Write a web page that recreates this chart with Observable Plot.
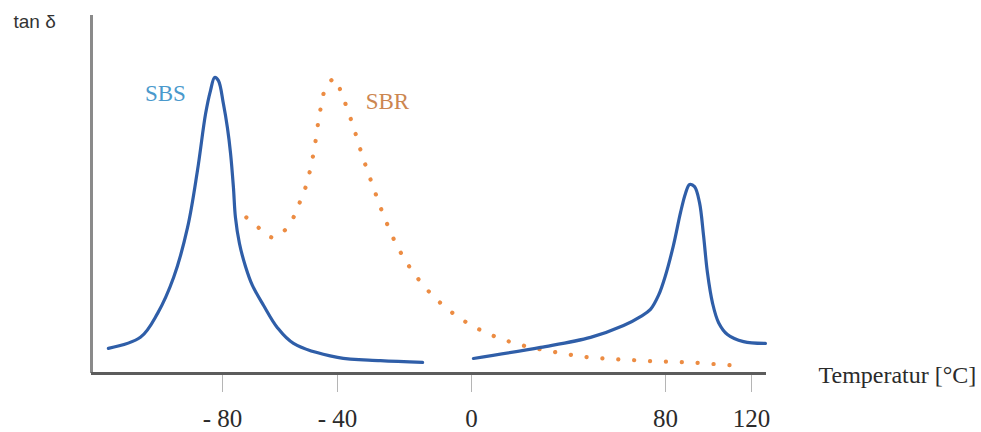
<!DOCTYPE html>
<html>
<head>
<meta charset="utf-8">
<script src="https://cdn.jsdelivr.net/npm/d3@7"></script>
<script src="https://cdn.jsdelivr.net/npm/@observablehq/plot@0.6"></script>
<style>
  html, body { margin: 0; padding: 0; background: #fff; }
  #chart svg { display: block; }
</style>
</head>
<body>
<div id="chart"></div>
<script>
// Temperature (°C) and tan δ (arbitrary units, 0 = axis, 100 = top of axis)
const sbsTemp = [-119.2, -108.2, -102.3, -96.8, -92.0, -88.6, -85.8, -84.1, -82.7, -81.4, -79.7, -78.3, -77.2, -76.2, -75.5, -74.1, -72.0, -69.6, -65.7, -60.9, -55.3, -40.0, -27.2, -14.6,
                 null,
                 0.8, 28.5, 49.1, 62.7, 69.7, 73.8, 77.1, 80.0, 83.7, 87.0, 89.3, 91.2, 93.5, 95.8, 97.7, 99.5, 101.9, 104.7, 108.8, 116.3, 126.5];
const sbsTan  = [7.0, 10.1, 16.8, 26.8, 40.8, 56.7, 72.6, 79.1, 82.7, 81.8, 75.4, 68.7, 61.5, 52.0, 43.6, 36.3, 29.9, 24.6, 19.0, 12.8, 8.4, 4.5, 3.6, 3.1,
                 null,
                 4.2, 7.3, 10.1, 13.4, 15.9, 17.9, 21.8, 27.4, 35.8, 45.0, 50.3, 52.8, 52.2, 47.8, 38.5, 28.2, 19.6, 14.2, 10.9, 8.9, 8.4];

const sbrTemp = [-71.7, -67.1, -62.6, -58.1, -55.0, -52.9, -50.8, -48.3, -46.6, -45.6, -44.2, -41.0, -38.8, -35.5, -32.5, -29.3, -26.0, -21.8, -16.7, -10.1, -2.4, 8.7, 21.4, 35.1, 48.7, 62.3, 75.9, 90.7, 106.0, 113.5];
const sbrTan  = [43.6, 40.5, 38.0, 40.2, 44.1, 48.3, 52.8, 61.7, 70.7, 75.1, 79.6, 82.4, 78.2, 69.6, 60.6, 52.0, 43.6, 34.9, 27.4, 20.4, 14.8, 10.6, 7.8, 5.9, 4.5, 3.9, 3.4, 3.1, 2.5, 2.2];

const tickValues = [-80, -40, 0, 80, 120];
const seriesNames = ["SBS", "SBR"];
const labelTemp = [-99.6, -25.1];
const labelTan = [78.2, 76.0];
const yTitle = "tan δ";
const xTitle = "Temperatur [°C]";

// the schematic's temperature axis is non-uniform: piecewise warp of temperature
const warpDomain = [-125, -80, -40, 0, 80, 120, 127];
const warpRange  = [0, 131, 246, 380, 574, 660, 675];
const warp = d3.scaleLinear().domain(warpDomain).range(warpRange);
const wx = t => (t == null ? NaN : warp(t));

const sbs = sbsTemp.map((t, i) => ({t, v: sbsTan[i]}));
const sbr = sbrTemp.map((t, i) => ({t, v: sbrTan[i]}));

const serif = "'Liberation Serif', 'DejaVu Serif', serif";

const chart = Plot.plot({
  width: 981,
  height: 432,
  marginLeft: 91,
  marginRight: 215,
  marginTop: 15,
  marginBottom: 59,
  x: {domain: [warpRange[0], warpRange[warpRange.length - 1]], axis: null},
  y: {domain: [0, 100], axis: null},
  marks: [
    Plot.axisX({
      ticks: tickValues.map(wx),
      tickSize: 19,
      tickPadding: 17,
      tickFormat: d => { const t = Math.round(warp.invert(d)); return t < 0 ? "- " + Math.abs(t) : String(t); },
      stroke: "#b5b5b5",
      strokeWidth: 1,
      fill: "#2b2b2b",
      fontSize: 25,
      fontFamily: serif,
      label: null
    }),
    Plot.ruleX([warpRange[0]], {stroke: "#8a8a8a", strokeWidth: 3}),
    Plot.ruleY([0], {stroke: "#5c5c5c", strokeWidth: 3}),
    Plot.line(sbr, {x: d => wx(d.t), y: "v", curve: "catmull-rom", stroke: "#ec8c43", strokeWidth: 4.2,
                    strokeDasharray: "0.1 15.8", strokeLinecap: "round"}),
    Plot.line(sbs, {x: d => wx(d.t), y: "v", curve: "catmull-rom", stroke: "#2f5ea8", strokeWidth: 3.2,
                    strokeLinejoin: "round", strokeLinecap: "round"}),
    Plot.text(seriesNames, {
      x: (d, i) => wx(labelTemp[i]), y: (d, i) => labelTan[i], text: d => d,
      fill: (d, i) => i === 0 ? "#4a99cc" : "#cc8650",
      fontSize: 23, fontFamily: serif
    }),
    Plot.text([yTitle], {frameAnchor: "top-left", dx: -78, dy: 6, textAnchor: "start",
                         lineAnchor: "middle", text: d => d, fontSize: 19,
                         fontFamily: "'Liberation Sans', Arial, sans-serif", fill: "#333"}),
    Plot.text([xTitle], {frameAnchor: "bottom-right", dx: 52, dy: 2, textAnchor: "start",
                         lineAnchor: "middle", text: d => d, fontSize: 24,
                         fontFamily: serif, fill: "#2b2b2b"})
  ]
});
document.getElementById("chart").appendChild(chart);
</script>
</body>
</html>
